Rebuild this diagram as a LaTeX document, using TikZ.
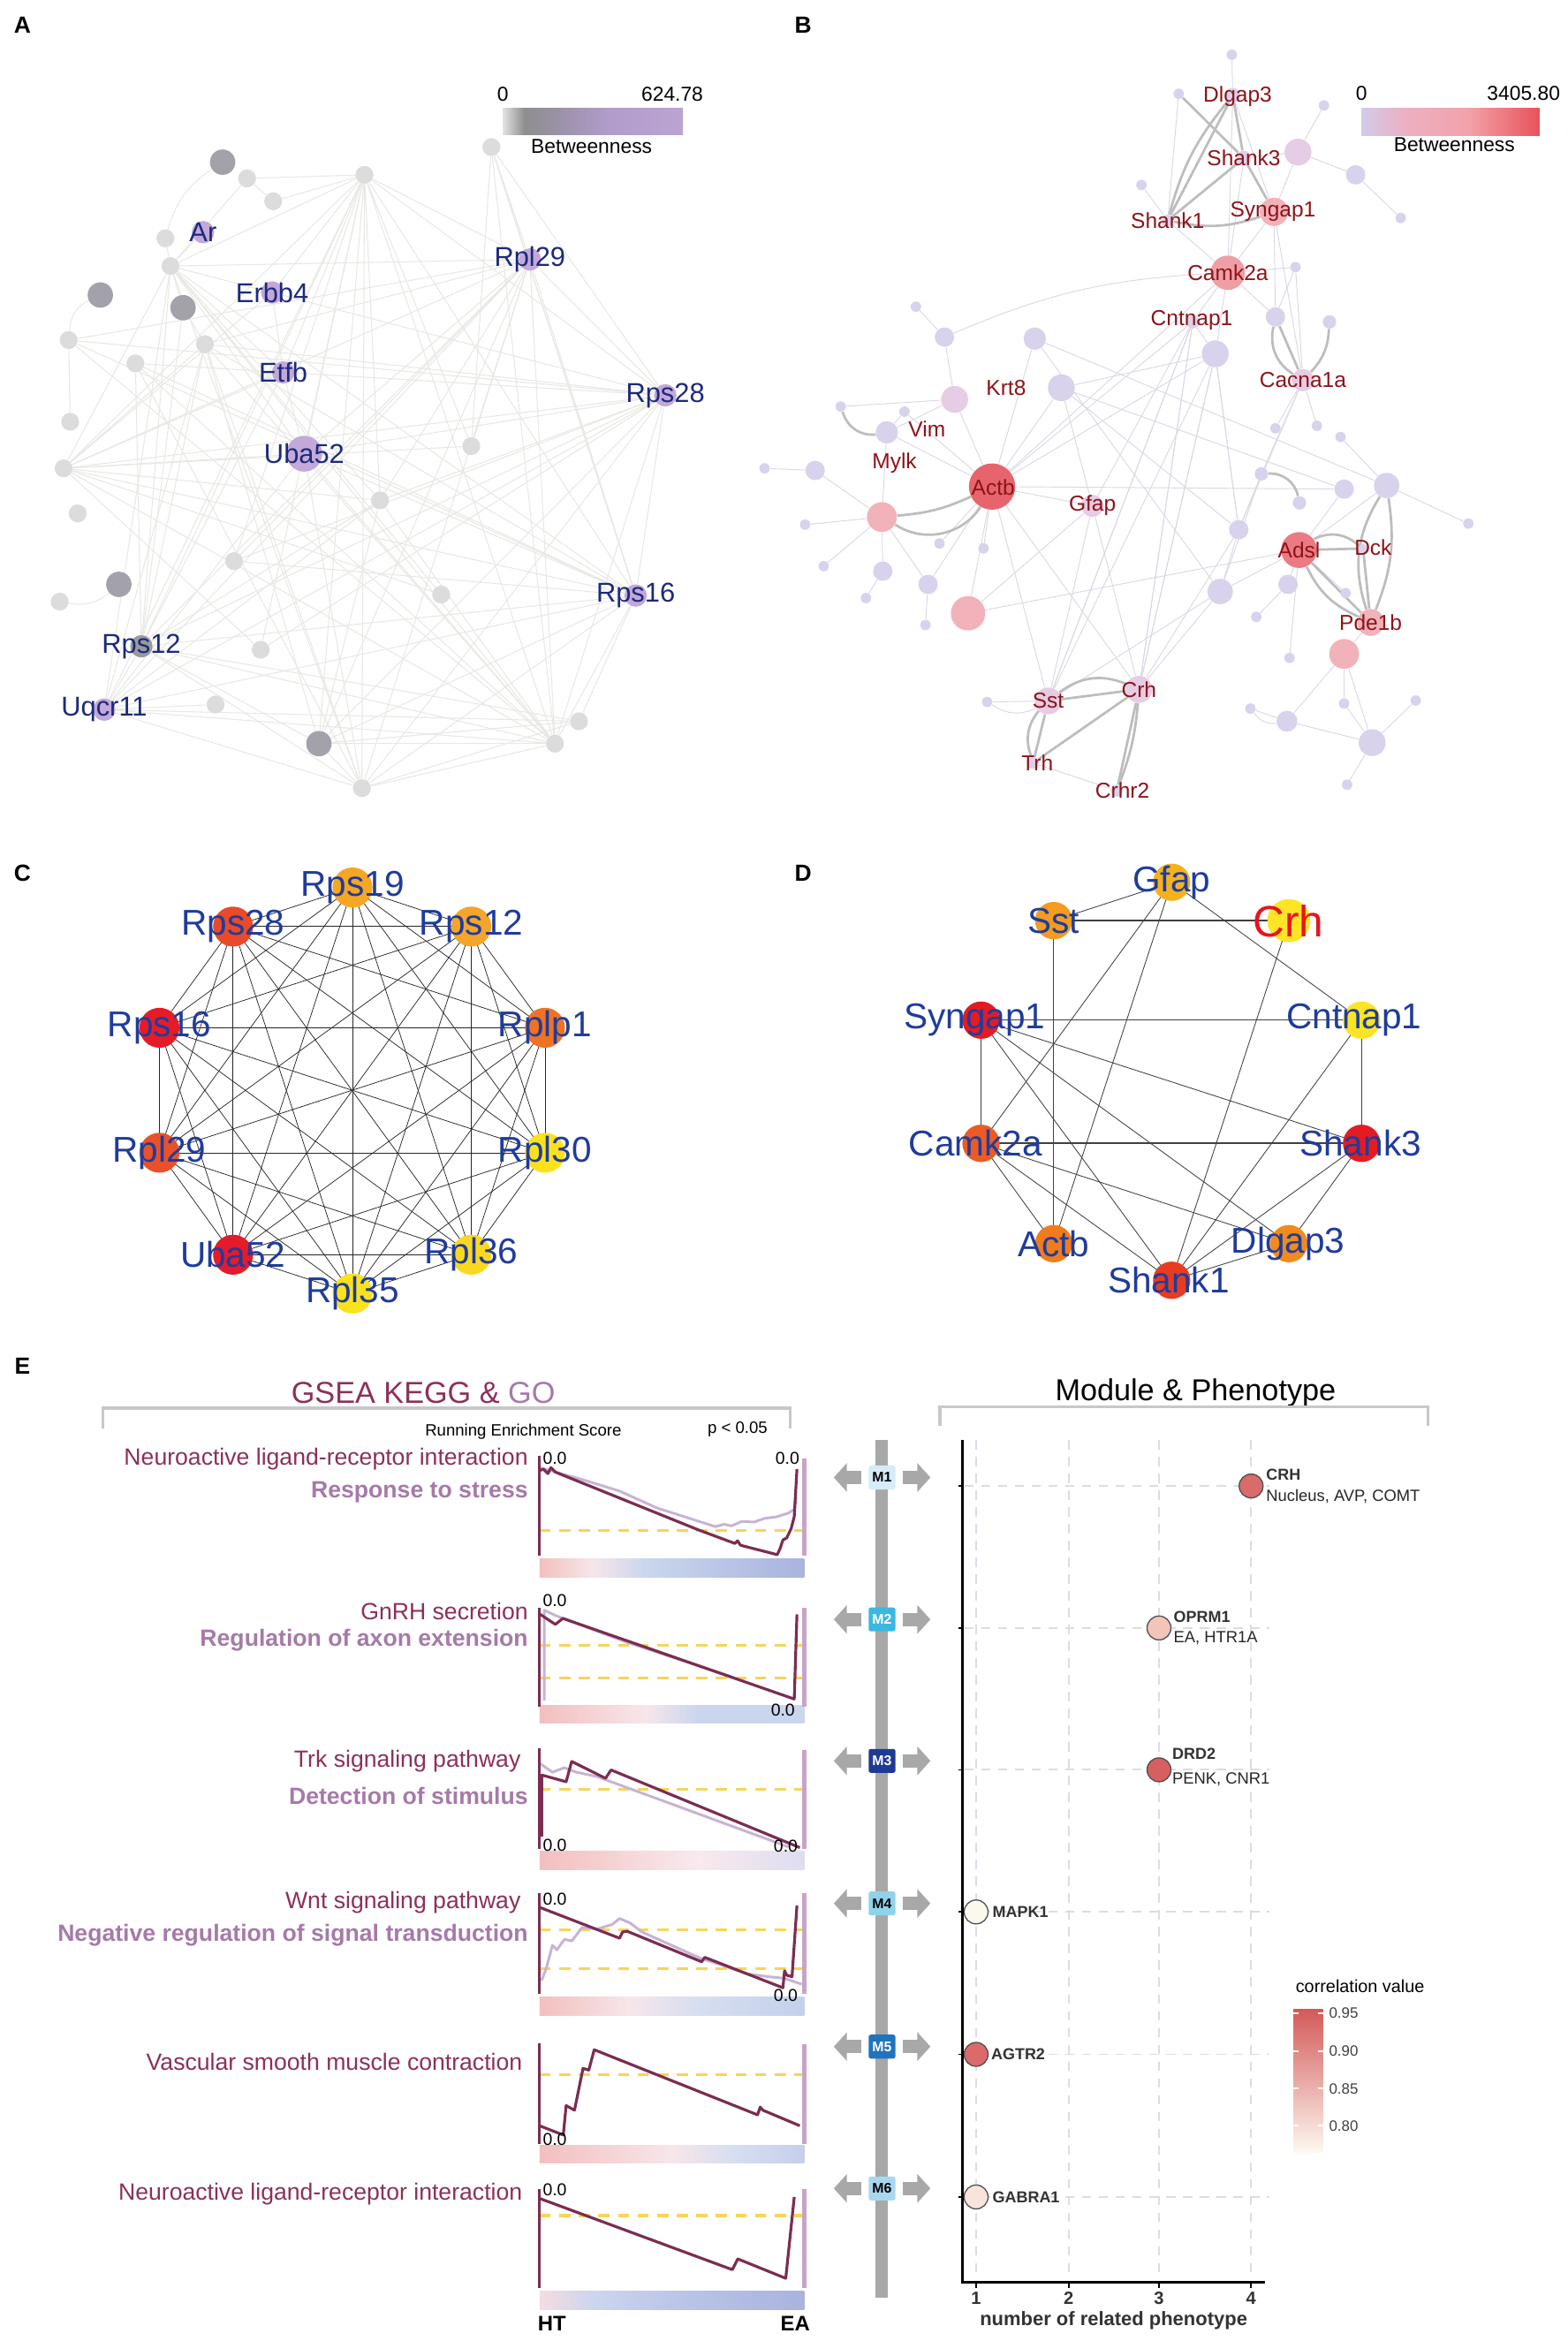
\documentclass[tikz,border=0pt]{standalone}
\usepackage{fontspec}
\setmainfont{Liberation Sans}
\usetikzlibrary{arrows.meta}
\pgfdeclarelayer{back}
\pgfdeclarelayer{bg}
\pgfsetlayers{back,bg,main}
\newcommand\fsz[1]{\fontsize{#1}{#1}\selectfont}
% colours
\definecolor{alight}{HTML}{DCDCDC}
\definecolor{adark}{HTML}{A3A2AA}
\definecolor{apurp}{HTML}{C2A9D9}
\definecolor{agray}{HTML}{9A9A9E}
\definecolor{aedgec}{HTML}{E8E8E4}
\definecolor{alab}{HTML}{1C2A7A}
\definecolor{blav}{HTML}{D9D2EC}
\definecolor{blavp}{HTML}{E6CCE4}
\definecolor{bpink}{HTML}{F2B2BA}
\definecolor{bred}{HTML}{E8646C}
\definecolor{bcam}{HTML}{F09EA6}
\definecolor{badsl}{HTML}{EC7A82}
\definecolor{bthinc}{HTML}{DCD8E4}
\definecolor{bthickc}{HTML}{BDBDBD}
\definecolor{blab}{HTML}{8C1419}
\definecolor{cdlab}{HTML}{1F3C9C}
\definecolor{kegg}{HTML}{8C305A}
\definecolor{gocol}{HTML}{A57AA8}
\definecolor{gdark}{HTML}{7B2D50}
\definecolor{glight}{HTML}{C7B3D3}
\definecolor{gright}{HTML}{C9A3C6}
\definecolor{gyel}{HTML}{F7D558}
\definecolor{brk}{HTML}{C8C8C8}
\definecolor{arrgray}{HTML}{A8A8A8}
\definecolor{gridc}{HTML}{DCDCE6}
\definecolor{mone}{HTML}{D6ECF8}
\definecolor{mtwo}{HTML}{3BB8E0}
\definecolor{mthree}{HTML}{1F3A93}
\definecolor{mfour}{HTML}{8FD3EA}
\definecolor{mfive}{HTML}{1F74C0}
\definecolor{msix}{HTML}{A8D8F0}
\definecolor{legtop}{HTML}{D45A5A}
\definecolor{legbot}{HTML}{FDF8F0}
\definecolor{crhred}{HTML}{E8141C}
% shading colours
\definecolor{sa1}{HTML}{E2E2E2}\definecolor{sa2}{HTML}{8E8E8E}\definecolor{sa3}{HTML}{9A92A6}\definecolor{sa4}{HTML}{B29CCC}\definecolor{sa5}{HTML}{BBA4D2}
\definecolor{sb1}{HTML}{D0CCEA}\definecolor{sb2}{HTML}{ECB0C4}\definecolor{sb3}{HTML}{F2A2AA}\definecolor{sb4}{HTML}{E8525A}
\definecolor{gpink}{HTML}{F3BFBE}\definecolor{gwhite}{HTML}{F7E6EA}\definecolor{glblue}{HTML}{CAD6EE}\definecolor{gblue}{HTML}{A9B3DD}
\definecolor{gw3}{HTML}{F8EAEE}\definecolor{gl3}{HTML}{DEDDF0}\definecolor{gm4}{HTML}{D6DEF0}\definecolor{gr4}{HTML}{C4D0EC}
\definecolor{g6a}{HTML}{F6DCE2}\definecolor{g6b}{HTML}{CCD6EE}\definecolor{g6c}{HTML}{BCC6E8}
\pgfdeclarehorizontalshading{shA}{100bp}{color(0bp)=(sa1); color(25bp)=(sa1); color(31bp)=(sa2); color(40bp)=(sa3); color(55bp)=(sa4); color(75bp)=(sa5); color(100bp)=(sa5)}
\pgfdeclarehorizontalshading{shB}{100bp}{color(0bp)=(sb1); color(25bp)=(sb1); color(37bp)=(sb2); color(55bp)=(sb3); color(75bp)=(sb4); color(100bp)=(sb4)}
\pgfdeclarehorizontalshading{gone}{100bp}{color(0bp)=(gpink); color(25bp)=(gpink); color(35bp)=(gwhite); color(45bp)=(glblue); color(75bp)=(gblue); color(100bp)=(gblue)}
\pgfdeclarehorizontalshading{gtwo}{100bp}{color(0bp)=(gpink); color(25bp)=(gpink); color(45bp)=(gwhite); color(55bp)=(glblue); color(75bp)=(glblue); color(100bp)=(glblue)}
\pgfdeclarehorizontalshading{gthree}{100bp}{color(0bp)=(gpink); color(25bp)=(gpink); color(55bp)=(gw3); color(75bp)=(gl3); color(100bp)=(gl3)}
\pgfdeclarehorizontalshading{gfour}{100bp}{color(0bp)=(gpink); color(25bp)=(gpink); color(42bp)=(gwhite); color(55bp)=(gm4); color(75bp)=(gr4); color(100bp)=(gr4)}
\pgfdeclarehorizontalshading{gfive}{100bp}{color(0bp)=(gpink); color(25bp)=(gpink); color(50bp)=(gwhite); color(62bp)=(gm4); color(75bp)=(gr4); color(100bp)=(gr4)}
\pgfdeclarehorizontalshading{gsix}{100bp}{color(0bp)=(g6a); color(25bp)=(g6a); color(35bp)=(g6b); color(50bp)=(g6c); color(75bp)=(gblue); color(100bp)=(gblue)}
\begin{document}
\begin{tikzpicture}[x=0.8pt,y=-0.8pt,
  nd/.style 2 args={circle,inner sep=0pt,minimum size=#1,fill=#2},
  aedge/.style={draw=aedgec,line width=0.5pt},
  bthin/.style={draw=bthinc,line width=0.45pt},
  bthick/.style={draw=bthickc,line width=1.3pt},
  cedge/.style={draw=black!85,line width=0.35pt},
  dedge/.style={draw=black!75,line width=0.4pt},
  atext/.style={text=alab,font=\fsz{14.6pt},inner sep=0pt},
  btext/.style={text=blab,font=\fsz{11.6pt},inner sep=0pt},
  cdtext/.style={text=cdlab,font=\fsz{19.2pt},inner sep=0pt},
  panel/.style={font=\fsz{12.5pt}\bfseries,inner sep=0pt},
  cbtext/.style={font=\fsz{10.8pt},inner sep=0pt},
  keggt/.style={text=kegg,font=\fsz{12.6pt},anchor=east,inner sep=0pt},
  got/.style={text=gocol,font=\fsz{12.6pt}\bfseries,anchor=east,inner sep=0pt},
  zlab/.style={font=\fsz{9.2pt},inner sep=0pt},
  gdk/.style={draw=gdark,line width=1.5pt,line join=round},
  glt/.style={draw=glight,line width=1.4pt,line join=round},
  gax/.style={draw=gdark,line width=1.6pt},
  gaxr/.style={draw=gright,line width=2pt},
  gdash/.style={draw=gyel,line width=1.6pt,dash pattern=on 6pt off 4.5pt},
  brack/.style={draw=brk,line width=1.6pt},
  mbox/.style={rounded corners=1.2pt,minimum width=14.4pt,minimum height=12.8pt,inner sep=0pt,font=\fsz{7.5pt}\bfseries},
  fatarrow/.style={draw=arrgray,line width=7pt,-{Triangle[length=7pt,width=15pt]},shorten <=3.5pt},
  ptc/.style={circle,draw=black!70,line width=0.6pt,minimum size=12.8pt,inner sep=0pt},
  gname/.style={font=\fsz{8.5pt}\bfseries,text=black!80,anchor=west,inner sep=0pt},
  gsub/.style={font=\fsz{8.7pt},text=black!85,anchor=west,inner sep=0pt},
  grid/.style={draw=gridc,line width=0.9pt,dash pattern=on 5pt off 4pt}
]
\useasboundingbox (0,0) rectangle (1050,1568);
\begin{pgfonlayer}{back}
\fill[white] (0,0) rectangle (1050,1568);
\end{pgfonlayer}

% ================= PANEL A =================
\node[panel] (pA) at (15,17) {A};
\shade[shading=shA] (336.8,72.3) rectangle (457.4,90);
\node[cbtext] (cbA0) at (336.8,63) {0};
\node[cbtext] (cbA1) at (450.3,63) {624.78};
\node[cbtext] (cbA2) at (396.2,97.8) {Betweenness};

\node[nd={13.6pt}{adark}] (a1) at (149.1,108.6) {};
\node[nd={9.6pt}{alight}] (a2) at (165.5,119.5) {};
\node[nd={9.6pt}{alight}] (a3) at (183,134.8) {};
\node[nd={9.6pt}{alight}] (a4) at (244.1,117.1) {};
\node[nd={9.6pt}{alight}] (a5) at (329.1,98.5) {};
\node[nd={12pt}{apurp}] (a6) at (136,155.5) {};
\node[nd={9.6pt}{alight}] (a7) at (110.8,159.6) {};
\node[nd={9.6pt}{alight}] (a8) at (114.2,178.2) {};
\node[nd={13.6pt}{adark}] (a9) at (67.2,197.6) {};
\node[nd={13.6pt}{adark}] (a10) at (122.6,206.1) {};
\node[nd={12pt}{apurp}] (a11) at (182.3,195.9) {};
\node[nd={12pt}{apurp}] (a12) at (354.9,173.8) {};
\node[nd={9.6pt}{alight}] (a13) at (46,227.8) {};
\node[nd={9.6pt}{alight}] (a14) at (137.3,230.5) {};
\node[nd={9.6pt}{alight}] (a15) at (90.7,243.4) {};
\node[nd={12pt}{apurp}] (a16) at (189.7,249.5) {};
\node[nd={12pt}{apurp}] (a17) at (445.6,264.8) {};
\node[nd={9.6pt}{alight}] (a18) at (47,282.5) {};
\node[nd={9.6pt}{alight}] (a19) at (315.7,298.8) {};
\node[nd={19.2pt}{apurp}] (a20) at (203.8,303.9) {};
\node[nd={9.6pt}{alight}] (a21) at (42.6,313.7) {};
\node[nd={9.6pt}{alight}] (a22) at (254.5,335.1) {};
\node[nd={9.6pt}{alight}] (a23) at (52,343.9) {};
\node[nd={9.6pt}{alight}] (a24) at (156.8,375.8) {};
\node[nd={9.6pt}{alight}] (a25) at (295.5,398.2) {};
\node[nd={12pt}{apurp}] (a26) at (425.8,398.9) {};
\node[nd={13.6pt}{adark}] (a27) at (79.6,391.4) {};
\node[nd={9.6pt}{alight}] (a28) at (40,403) {};
\node[nd={12pt}{agray}] (a29) at (94.7,432.9) {};
\node[nd={9.6pt}{alight}] (a30) at (174.6,435.2) {};
\node[nd={12pt}{apurp}] (a31) at (69.8,475.3) {};
\node[nd={9.6pt}{alight}] (a32) at (144.4,471.9) {};
\node[nd={13.6pt}{adark}] (a33) at (213.6,498.1) {};
\node[nd={9.6pt}{alight}] (a34) at (371.7,498.1) {};
\node[nd={9.6pt}{alight}] (a35) at (387.8,483.1) {};
\node[nd={9.6pt}{alight}] (a36) at (242.4,527.9) {};

\begin{pgfonlayer}{bg}
\foreach \u/\v in {a4/a2,a4/a3,a4/a8,a4/a11,a4/a16,a4/a20,a4/a22,a4/a24,a4/a26,a4/a29,a4/a30,a4/a33,a4/a34,a4/a36,a4/a12,a4/a17,a4/a21,a4/a19,a4/a31,
 a21/a8,a21/a12,a21/a17,a21/a26,a21/a22,a21/a34,a21/a19,a21/a11,a21/a16,a21/a20,a21/a25,a21/a30,a21/a14,
 a8/a12,a8/a17,a8/a20,a8/a26,a8/a29,a8/a31,a8/a16,a8/a22,a8/a34,a8/a10,a8/a7,a8/a2,a8/a36,a8/a25,
 a12/a17,a12/a26,a12/a29,a12/a31,a12/a14,a12/a24,a12/a33,a12/a34,a12/a13,a12/a22,a12/a19,a12/a36,a12/a20,a12/a5,
 a17/a26,a17/a29,a17/a31,a17/a14,a17/a24,a17/a33,a17/a34,a17/a36,a17/a13,a17/a15,a17/a22,a17/a5,a17/a20,a17/a30,
 a26/a29,a26/a31,a26/a14,a26/a15,a26/a13,a26/a33,a26/a36,a26/a34,a26/a35,a26/a24,a26/a20,a26/a5,
 a29/a14,a29/a36,a29/a34,a29/a31,a29/a33,a29/a22,a29/a16,a29/a15,a29/a35,
 a31/a36,a31/a34,a31/a14,a31/a22,a31/a20,a31/a32,a31/a35,
 a33/a34,a33/a36,a33/a35,a33/a14,a33/a22,
 a36/a34,a36/a14,a36/a15,a36/a20,a36/a35,
 a34/a14,a34/a15,a34/a13,a34/a22,a34/a20,a34/a5,
 a13/a18,a10/a14,a10/a29,a6/a8,a5/a19,a5/a26,a2/a3,a11/a16,a16/a20}
 \draw[aedge] (\u) -- (\v);
\draw[aedge] (a9) to[bend right=30] (a13);
\draw[aedge] (a27) to[bend left=25] (a28);
\draw[aedge] (a1) to[bend right=20] (a7);
\end{pgfonlayer}

\node[atext] (la6) at (a6) {Ar};
\node[atext] (la11) at (a11) {Erbb4};
\node[atext] (la12) at (a12) {Rpl29};
\node[atext] (la16) at (a16) {Etfb};
\node[atext] (la17) at (a17) {Rps28};
\node[atext] (la20) at (a20) {Uba52};
\node[atext] (la26) at (a26) {Rps16};
\node[atext] (la29) at (a29) {Rps12};
\node[atext] (la31) at (a31) {Uqcr11};

% ================= PANEL B =================
\node[panel] (pB) at (538,17) {B};
\shade[shading=shB] (912,72.3) rectangle (1031.2,91);
\node[cbtext] (cbB0) at (912,62.8) {0};
\node[cbtext] (cbB1) at (1020.5,62.8) {3405.80};
\node[cbtext] (cbB2) at (974.1,96.8) {Betweenness};

\node[nd={5.6pt}{blav}] (b1) at (825.1,36.7) {};
\node[nd={8pt}{blav}] (b2) at (825.7,63.8) {};
\node[nd={5.6pt}{blav}] (b3) at (789.5,62.8) {};
\node[nd={5.6pt}{blav}] (b4) at (886.8,70.6) {};
\node[nd={8pt}{blav}] (b5) at (833.1,105.9) {};
\node[nd={14.4pt}{blavp}] (b6) at (869.4,101.9) {};
\node[nd={10.4pt}{blav}] (b7) at (908,117.1) {};
\node[nd={5.6pt}{blav}] (b8) at (764.6,123.9) {};
\node[nd={5.6pt}{blav}] (b9) at (938.2,146) {};
\node[nd={6.4pt}{blav}] (b10) at (782.1,147.7) {};
\node[nd={15.2pt}{bpink}] (b11) at (853.3,141.9) {};
\node[nd={18.4pt}{bcam}] (b12) at (822.4,182.7) {};
\node[nd={5.6pt}{blav}] (b13) at (867.7,178.9) {};
\node[nd={7.2pt}{blav}] (b14) at (798.9,215.6) {};
\node[nd={10.4pt}{blav}] (b15) at (854.3,212.2) {};
\node[nd={7.2pt}{blav}] (b16) at (890.5,215.6) {};
\node[nd={5.6pt}{blav}] (b17) at (613.5,205.4) {};
\node[nd={10.4pt}{blav}] (b18) at (632.6,225.8) {};
\node[nd={12pt}{blav}] (b19) at (693.1,226.8) {};
\node[nd={14.4pt}{blav}] (b20) at (814,237) {};
\node[nd={12pt}{blavp}] (b21) at (872.7,254.6) {};
\node[nd={14.4pt}{blavp}] (b22) at (639.4,267.5) {};
\node[nd={14.4pt}{blav}] (b23) at (710.9,259.7) {};
\node[nd={5.6pt}{blav}] (b24) at (563.1,272.3) {};
\node[nd={5.6pt}{blav}] (b25) at (605.8,275.7) {};
\node[nd={12pt}{blav}] (b26) at (594,289.6) {};
\node[nd={5.6pt}{blav}] (b27) at (854.3,286.9) {};
\node[nd={5.6pt}{blav}] (b28) at (882.1,285.2) {};
\node[nd={5.6pt}{blav}] (b29) at (897.9,292.7) {};
\node[nd={10.4pt}{blav}] (b30) at (546,315.1) {};
\node[nd={24.8pt}{bred}] (b31) at (664.5,325.9) {};
\node[nd={7.2pt}{blav}] (b32) at (844.9,317.4) {};
\node[nd={10.4pt}{blav}] (b33) at (900.3,327.6) {};
\node[nd={13.6pt}{blav}] (b34) at (928.8,325.2) {};
\node[nd={5.6pt}{blav}] (b35) at (983.5,350.7) {};
\node[nd={7.2pt}{blav}] (b36) at (870.4,336.8) {};
\node[nd={16pt}{bpink}] (b37) at (590.7,346.3) {};
\node[nd={5.6pt}{blav}] (b38) at (539.3,351.4) {};
\node[nd={12pt}{blavp}] (b39) at (731.7,338.8) {};
\node[nd={10.4pt}{blav}] (b40) at (829.7,354.8) {};
\node[nd={19.2pt}{badsl}] (b41) at (870.1,368.4) {};
\node[nd={5pt}{blav}] (b42) at (913,367.4) {};
\node[nd={5.6pt}{blav}] (b43) at (629.3,364) {};
\node[nd={5.6pt}{blav}] (b44) at (658.8,367.3) {};
\node[nd={5.6pt}{blav}] (b45) at (551.7,379.2) {};
\node[nd={10.4pt}{blav}] (b46) at (591.3,382.6) {};
\node[nd={10.4pt}{blav}] (b47) at (621.6,391.4) {};
\node[nd={10.4pt}{blav}] (b48) at (862.7,391.4) {};
\node[nd={5.6pt}{blav}] (b49) at (901.3,397.2) {};
\node[nd={18.4pt}{bpink}] (b50) at (648.4,410.8) {};
\node[nd={13.6pt}{blav}] (b51) at (817.3,396.2) {};
\node[nd={5.6pt}{blav}] (b52) at (580,400.6) {};
\node[nd={5.6pt}{blav}] (b53) at (841.5,413.2) {};
\node[nd={14.4pt}{bpink}] (b54) at (918.1,416.9) {};
\node[nd={5.6pt}{blav}] (b55) at (619.9,418.6) {};
\node[nd={16pt}{bpink}] (b56) at (900.3,438) {};
\node[nd={5.6pt}{blav}] (b57) at (863.7,440.7) {};
\node[nd={14.4pt}{blavp}] (b58) at (702.1,469.5) {};
\node[nd={14.4pt}{blavp}] (b59) at (762.9,461.7) {};
\node[nd={5.6pt}{blav}] (b60) at (661.2,470.2) {};
\node[nd={6.4pt}{blav}] (b61) at (692,511) {};
\node[nd={6.4pt}{blav}] (b62) at (748,529.6) {};
\node[nd={5.6pt}{blav}] (b63) at (837.5,474.6) {};
\node[nd={11.2pt}{blav}] (b64) at (862,483.1) {};
\node[nd={14.4pt}{blav}] (b65) at (919.1,497.4) {};
\node[nd={5.6pt}{blav}] (b66) at (948.3,469.2) {};
\node[nd={5.6pt}{blav}] (b67) at (900.3,471.2) {};
\node[nd={5.6pt}{blav}] (b68) at (902.3,525.6) {};
\node[nd={5.6pt}{blav}] (b69) at (512.1,313.7) {};

\begin{pgfonlayer}{bg}
\foreach \u/\v in {b1/b2,b2/b12,b5/b12,b10/b12,b11/b12,b8/b10,b6/b11,b6/b7,b6/b4,b7/b9,b5/b6,b12/b20,b12/b15,b12/b13,b13/b15,b13/b21,b14/b20,b14/b12,b17/b18,b18/b22,b22/b31,b22/b26,b19/b31,b19/b51,b23/b31,b23/b20,b23/b39,b23/b40,b20/b31,b20/b40,b26/b31,b25/b31,b26/b37,b30/b37,b30/b69,b38/b37,b45/b37,b46/b37,b52/b46,b47/b31,b47/b55,b43/b31,b44/b31,b50/b31,b50/b41,b31/b39,b31/b58,b31/b59,b39/b58,b39/b59,b39/b14,b58/b60,b58/b14,b59/b14,b59/b51,b59/b20,b61/b62,b51/b40,b51/b32,b51/b41,b40/b20,b40/b21,b40/b32,b21/b27,b21/b28,b21/b32,b33/b41,b34/b41,b34/b35,b34/b29,b41/b48,b41/b49,b41/b57,b48/b53,b54/b56,b56/b67,b56/b64,b56/b65,b64/b63,b64/b65,b65/b66,b65/b68,b67/b65,b23/b33,b19/b34,b11/b21,b11/b15,b12/b31,b14/b31,b20/b58,b20/b59,b14/b58,b14/b59,b2/b11,b3/b10,b22/b24,b25/b26,b37/b47,b50/b39,b58/b51,b59/b40,b31/b33}
 \draw[bthin] (\u) -- (\v);
\draw[bthin] (b12) to[bend right=10] (b18);
\draw[bthin] (b60) to[bend right=30] (b58);
\draw[bthin] (b63) to[bend right=30] (b64);
\foreach \u/\v in {b2/b5,b2/b10,b5/b10,b3/b5,b5/b11,b15/b21,b41/b42,b41/b54,b42/b54,b58/b59,b58/b61,b59/b61,b59/b62}
 \draw[bthick] (\u) -- (\v);
\draw[bthick] (b2) to[bend right=12] (b10);
\draw[bthick] (b10) to[bend right=15] (b11);
\draw[bthick] (b31) to[bend left=10] (b37);
\draw[bthick] (b31) to[bend left=45] (b37);
\draw[bthick] (b24) to[bend right=40] (b26);
\draw[bthick] (b16) to[bend left=20] (b21);
\draw[bthick] (b15) to[bend right=35] (b21);
\draw[bthick] (b32) to[bend left=40] (b36);
\draw[bthick] (b41) to[bend left=35] (b42);
\draw[bthick] (b34) to[bend left=15] (b54);
\draw[bthick] (b34) to[bend right=25] (b54);
\draw[bthick] (b41) to[bend right=20] (b54);
\draw[bthick] (b58) to[bend right=30] (b61);
\draw[bthick] (b59) to[bend left=8] (b62);
\draw[bthick] (b58) to[bend left=30] (b59);
\end{pgfonlayer}

\node[btext] (lb2) at (829,64.5) {Dlgap3};
\node[btext] (lb5) at (833.1,105.9) {Shank3};
\node[btext] (lb10) at (782.1,147.7) {Shank1};
\node[btext] (lb11) at (852.6,141.9) {Syngap1};
\node[btext] (lb12) at (822.4,182.7) {Camk2a};
\node[btext] (lb14) at (798.2,214.6) {Cntnap1};
\node[btext] (lb21) at (872.7,254.6) {Cacna1a};
\node[btext] (lb22) at (673.9,259.7) {Krt8};
\node[btext] (lb26) at (620.9,287.6) {Vim};
\node[btext] (lb37) at (599.1,310) {Mylk};
\node[btext] (lb31) at (665.2,326.6) {Actb};
\node[btext] (lb39) at (731.7,338.8) {Gfap};
\node[btext] (lb41) at (870.1,368.4) {Adsl};
\node[btext] (lb42) at (919.7,366.7) {Dck};
\node[btext] (lb54) at (918.1,416.9) {Pde1b};
\node[btext] (lb58) at (702.1,469.5) {Sst};
\node[btext] (lb59) at (762.9,461.7) {Crh};
\node[btext] (lb61) at (694.8,511) {Trh};
\node[btext] (lb62) at (751.8,529.6) {Crhr2};

% ================= PANEL C =================
\node[panel] (pC) at (15,585) {C};
\definecolor{cA}{HTML}{F5A623}\definecolor{cB}{HTML}{E84A2A}\definecolor{cC}{HTML}{F5A52A}
\definecolor{cD}{HTML}{E51C28}\definecolor{cE}{HTML}{EE7323}\definecolor{cF}{HTML}{E9512A}
\definecolor{cG}{HTML}{FBE21E}\definecolor{cH}{HTML}{E31B2A}\definecolor{cI}{HTML}{FBD820}
\node[nd={21.4pt}{cA}] (c1) at (236.1,594.4) {};
\node[nd={21.4pt}{cB}] (c2) at (156.1,620.6) {};
\node[nd={21.4pt}{cC}] (c3) at (315.7,620.6) {};
\node[nd={21.4pt}{cD}] (c4) at (106.8,688.4) {};
\node[nd={21.4pt}{cE}] (c5) at (365,688.4) {};
\node[nd={21.4pt}{cF}] (c6) at (106.8,772.1) {};
\node[nd={21.4pt}{cG}] (c7) at (365,772.1) {};
\node[nd={21.4pt}{cH}] (c8) at (156.1,840.4) {};
\node[nd={21.4pt}{cI}] (c9) at (315.7,840.4) {};
\node[nd={21.4pt}{cG}] (c10) at (236.1,866.4) {};
\begin{pgfonlayer}{bg}
\foreach \i in {1,...,10}{\foreach \j in {1,...,10}{\ifnum\i<\j \draw[cedge] (c\i.center) -- (c\j.center);\fi}}
\end{pgfonlayer}
\node[cdtext] (lc1) at (c1) {Rps19};
\node[cdtext] (lc2) at (c2) {Rps28};
\node[cdtext] (lc3) at (c3) {Rps12};
\node[cdtext] (lc4) at (c4) {Rps16};
\node[cdtext] (lc5) at (c5) {Rplp1};
\node[cdtext] (lc6) at (c6) {Rpl29};
\node[cdtext] (lc7) at (c7) {Rpl30};
\node[cdtext] (lc8) at (c8) {Uba52};
\node[cdtext] (lc9) at (c9) {Rpl36};
\node[cdtext] (lc10) at (c10) {Rpl35};

% ================= PANEL D =================
\node[panel] (pD) at (538,585) {D};
\definecolor{dA}{HTML}{F5B21E}\definecolor{dB}{HTML}{F39C1F}\definecolor{dC}{HTML}{FDE425}
\definecolor{dD}{HTML}{E41B23}\definecolor{dE}{HTML}{EC5B24}\definecolor{dF}{HTML}{F07C1E}
\definecolor{dG}{HTML}{F28A1E}\definecolor{dH}{HTML}{E63C22}
\node[nd={20pt}{dA}] (d1) at (784.8,590.9) {};
\node[nd={20pt}{dB}] (d2) at (705.8,616.6) {};
\node[nd={23pt}{dC}] (d3) at (863.3,616.6) {};
\node[nd={20pt}{dD}] (d4) at (657.1,683.3) {};
\node[nd={20pt}{dC}] (d5) at (912,683.3) {};
\node[nd={20pt}{dE}] (d6) at (657.1,765.8) {};
\node[nd={20pt}{dD}] (d7) at (912,765.8) {};
\node[nd={20pt}{dF}] (d8) at (705.8,833) {};
\node[nd={20pt}{dG}] (d9) at (863.3,833) {};
\node[nd={20pt}{dH}] (d10) at (784.8,857.5) {};
\begin{pgfonlayer}{bg}
\foreach \u/\v in {d2/d1,d1/d5,d1/d6,d1/d8,d3/d10,d4/d5,d4/d6,d4/d7,d4/d9,d4/d10,d2/d8,d5/d7,d5/d10,d6/d8,d6/d10,d6/d9,d7/d10,d7/d9,d9/d10}
 \draw[dedge] (\u.center) -- (\v.center);
\draw[dedge,line width=0.8pt] (d2.center) -- (d3.center);
\draw[dedge,line width=0.8pt] (d6.center) -- (d7.center);
\end{pgfonlayer}
\node[cdtext] (ld1) at (d1) {Gfap};
\node[cdtext] (ld2) at (d2) {Sst};
\node[text=crhred,font=\fsz{23.5pt},inner sep=0pt] (ld3) at (863,617) {Crh};
\node[cdtext] (ld4) at (652.8,683.3) {Syngap1};
\node[cdtext] (ld5) at (907,683.3) {Cntnap1};
\node[cdtext] (ld6) at (653.5,765.8) {Camk2a};
\node[cdtext] (ld7) at (911.3,765.8) {Shank3};
\node[cdtext] (ld8) at (705.8,833) {Actb};
\node[cdtext] (ld9) at (862.7,833) {Dlgap3};
\node[cdtext] (ld10) at (782.7,857.5) {Shank1};

% ================= PANEL E =================
\node[panel] (pE) at (15,915) {E};
\node[font=\fsz{16.2pt},inner sep=0pt] (tG) at (283.5,933) {\color{kegg}GSEA KEGG \& \color{gocol}GO};
\draw[brack] (69,956.8) -- (69,943.2) -- (529.3,943.2) -- (529.3,956.8);
\node[font=\fsz{16.2pt},inner sep=0pt] (tM) at (800.8,933) {Module \& Phenotype};
\draw[brack] (629.5,955.2) -- (629.5,942.1) -- (956.4,942.1) -- (956.4,955.2);
\node[font=\fsz{8.8pt},inner sep=0pt] (tR) at (350.5,959) {Running Enrichment Score};
\node[font=\fsz{8.8pt},inner sep=0pt] (tP) at (494,957.5) {p < 0.05};

% --- plot 1
\shade[shading=gone] (361.4,1044) rectangle (538.7,1056.4);
\draw[gdash] (361.4,1025) -- (538.7,1025);
\draw[glt] (361.4,983) -- (372,986) -- (390,991) -- (415,998.7) -- (440,1010) -- (479.1,1022.5) -- (485,1021) -- (490,1022) -- (497,1019) -- (505,1019.5) -- (512,1017) -- (520,1016) -- (528.2,1013.4) -- (532,1011) -- (533,1004);
\draw[gdk] (361.4,985) -- (364,984) -- (367,987) -- (369,983) -- (372,986) -- (467.8,1024.7) -- (492.3,1033.8) -- (494,1032) -- (496,1035) -- (520.6,1041.3) -- (522.5,1037.2) -- (524.4,1031.5) -- (527,1030) -- (530,1023.6) -- (532,1015.7) -- (533.8,983.9);
\draw[gax] (361.4,974.9) -- (361.4,1042.2);
\draw[gaxr] (538.7,977) -- (538.7,1042);
\node[keggt] (k1) at (353.9,977.2) {Neuroactive ligand-receptor interaction};
\node[got] (o1) at (353.9,999.2) {Response to stress};
\node[zlab] (z1a) at (371.6,976.5) {0.0};
\node[zlab] (z1b) at (527.4,976.5) {0.0};

% --- plot 2
\shade[shading=gtwo] (361.4,1142.4) rectangle (538.7,1153.8);
\draw[gdash] (361.4,1102.1) -- (538.7,1102.1);
\draw[gdash] (361.4,1123.9) -- (538.7,1123.9);
\draw[glt] (364.6,1139) -- (364.6,1078.5) -- (372,1082) -- (420,1100) -- (490.5,1123.2);
\draw[gdk] (361.4,1081) -- (372,1088) -- (377,1084) -- (532,1138) -- (533.8,1081.3);
\draw[gax] (361.4,1076.8) -- (361.4,1143.1);
\draw[gaxr] (538.7,1077) -- (538.7,1143);
\node[keggt] (k2) at (353.9,1079.5) {GnRH secretion};
\node[got] (o2) at (353.9,1098.3) {Regulation of axon extension};
\node[zlab] (z2a) at (371.6,1072.3) {0.0};
\node[zlab] (z2b) at (524.4,1145.2) {0.0};

% --- plot 3
\shade[shading=gthree] (361.4,1239.8) rectangle (538.7,1252.2);
\draw[gdash] (361.4,1198.6) -- (538.7,1198.6);
\draw[glt] (361.4,1181) -- (370,1187) -- (378,1184) -- (386,1187) -- (400,1190) -- (528,1237);
\draw[gdk] (362.9,1230) -- (362.9,1188.9) -- (379.2,1193.4) -- (382.9,1179.8) -- (405.6,1191.1) -- (409.3,1185.5) -- (535.7,1237.5);
\draw[gax] (361.4,1170.7) -- (361.4,1238.6);
\draw[gaxr] (538.7,1172) -- (538.7,1238.6);
\node[keggt] (k3) at (349,1179.8) {Trk signaling pathway};
\node[got] (o3) at (353.9,1203.1) {Detection of stimulus};
\node[zlab] (z3a) at (371.6,1235.9) {0.0};
\node[zlab] (z3b) at (526.3,1236.4) {0.0};

% --- plot 4
\shade[shading=gfour] (361.4,1337.6) rectangle (538.7,1350.1);
\draw[gdash] (361.4,1292.4) -- (538.7,1292.4);
\draw[gdash] (361.4,1318.6) -- (538.7,1318.6);
\draw[glt] (361.4,1325.2) -- (363,1326) -- (366,1318) -- (370,1303) -- (373,1306) -- (378,1299) -- (383,1300) -- (390,1291) -- (400,1292) -- (410,1289) -- (415,1285) -- (422,1288) -- (430,1294) -- (450,1303) -- (470,1312) -- (480,1315) -- (500,1322) -- (515,1324) -- (525,1325) -- (537,1329);
\draw[gdk] (361.4,1277.5) -- (415,1298.2) -- (417,1294) -- (420,1293.5) -- (470,1314) -- (472,1311) -- (524.4,1331.4) -- (525.5,1320) -- (527,1323) -- (530.5,1324) -- (533.8,1276.4);
\draw[gax] (361.4,1268.1) -- (361.4,1335.6);
\draw[gaxr] (538.7,1268.1) -- (538.7,1335.6);
\node[keggt] (k4) at (349,1274.4) {Wnt signaling pathway};
\node[got] (o4) at (353.9,1296.1) {Negative regulation of signal transduction};
\node[zlab] (z4a) at (371.6,1272.3) {0.0};
\node[zlab] (z4b) at (526.3,1336.6) {0.0};

% --- plot 5
\shade[shading=gfive] (361.4,1437.2) rectangle (538.7,1448.6);
\draw[gdash] (361.4,1389.5) -- (538.7,1389.5);
\draw[gdk] (361.4,1423.8) -- (377.3,1430) -- (379.2,1410.3) -- (384.8,1413.4) -- (390.5,1385.4) -- (394.4,1386.5) -- (398,1372.9) -- (507.4,1416.5) -- (509.2,1411.3) -- (511,1413.4) -- (535.7,1423.8);
\draw[gax] (361.4,1368.4) -- (361.4,1436.2);
\draw[gaxr] (538.7,1369) -- (538.7,1436.2);
\node[keggt] (k5) at (350.1,1380.8) {Vascular smooth muscle contraction};
\node[zlab] (z5a) at (371.6,1432.7) {0.0};

% --- plot 6
\shade[shading=gsix] (361.4,1534.8) rectangle (538.7,1547.2);
\draw[gdash] (361.4,1483.9) -- (538.7,1483.9);
\draw[gdk] (361.4,1472.5) -- (490.5,1520.2) -- (494.2,1513) -- (526.3,1526) -- (532,1471.5);
\draw[gax] (361.4,1466.3) -- (361.4,1532.7);
\draw[gaxr] (538.7,1466.3) -- (538.7,1532.7);
\node[keggt] (k6) at (350.1,1469.4) {Neuroactive ligand-receptor interaction};
\node[zlab] (z6a) at (371.6,1466.9) {0.0};
\node[font=\fsz{11.3pt}\bfseries,inner sep=0pt] (tHT) at (369.7,1556.5) {HT};
\node[font=\fsz{11.3pt}\bfseries,inner sep=0pt] (tEA) at (532.7,1556.5) {EA};

% --- module column
\fill[arrgray] (586.6,964.3) rectangle (594.9,1538.7);
\foreach \k/\yy/\col/\tc in {1/989.6/mone/black,2/1084.7/mtwo/white,3/1179.4/mthree/white,4/1274.9/mfour/black,5/1370.8/mfive/white,6/1465.8/msix/black}{
  \node[mbox,fill=\col,text=\tc] (m\k) at (590.8,\yy) {M\k};
  \coordinate (mL\k) at (558.5,\yy);
  \coordinate (mR\k) at (623.2,\yy);
  \draw[fatarrow] (m\k) -- (mL\k);
  \draw[fatarrow] (m\k) -- (mR\k);
}

% --- right plot
\foreach \xx in {653.8,715.8,776.3,838} \draw[grid] (\xx,964.5) -- (\xx,1527);
\foreach \yy in {995.3,1090.4,1185.4,1280.6,1376,1471.5} {\draw[grid] (646,\yy) -- (850,\yy); \draw[line width=0.8pt] (641.7,\yy) -- (645,\yy);}
\draw[line width=1.6pt] (644.7,964.5) -- (644.7,1528.5) -- (847.3,1528.5);
\foreach \xx/\t in {653.8/1,715.8/2,776.3/3,838/4}{
  \draw[line width=0.8pt] (\xx,1528.5) -- (\xx,1532.5);
  \node[font=\fsz{9.5pt}\bfseries,text=black!80,inner sep=0pt] (tk\t) at (\xx,1539.5) {\t};
}
\node[font=\fsz{10.4pt}\bfseries,text=black!80,inner sep=0pt] (tX) at (745.9,1554.5) {number of related phenotype};
\definecolor{pA}{HTML}{D96B6B}\definecolor{pB}{HTML}{F3C4B8}\definecolor{pC}{HTML}{D66060}
\definecolor{pD}{HTML}{FBF8EE}\definecolor{pE}{HTML}{DC6A6A}\definecolor{pF}{HTML}{F8E4DC}
\node[ptc,fill=pA] (p1) at (838,995.3) {};
\node[ptc,fill=pB] (p2) at (776.3,1090.4) {};
\node[ptc,fill=pC] (p3) at (776.3,1185.4) {};
\node[ptc,fill=pD] (p4) at (653.8,1280.6) {};
\node[ptc,fill=pE] (p5) at (653.8,1376) {};
\node[ptc,fill=pF] (p6) at (653.8,1471.5) {};
\node[gname] (g1) at (847.9,987.8) {CRH};
\node[gsub] (g1b) at (847.9,1002.1) {Nucleus, AVP, COMT};
\node[gname] (g2) at (785.9,1082.9) {OPRM1};
\node[gsub] (g2b) at (785.9,1097.2) {EA, HTR1A};
\node[gname] (g3) at (785,1174.8) {DRD2};
\node[gsub] (g3b) at (785,1191.6) {PENK, CNR1};
\node[gname] (g4) at (664.6,1280.6) {MAPK1};
\node[gname] (g5) at (663.7,1376) {AGTR2};
\node[gname] (g6) at (664.6,1471.5) {GABRA1};

% legend
\node[font=\fsz{9.4pt},inner sep=0pt] (lgT) at (911,1330.4) {correlation value};
\shade[top color=legtop,bottom color=legbot] (866.3,1346) rectangle (886.2,1441.4);
\foreach \yy/\t in {1348.4/0.95,1374/0.90,1398.9/0.85,1423.8/0.80}{
  \draw[white,line width=0.8pt] (866.3,\yy) -- (869.5,\yy);
  \draw[white,line width=0.8pt] (883,\yy) -- (886.2,\yy);
  \node[font=\fsz{8pt},text=black!75,anchor=west,inner sep=0pt] at (890,\yy) {\t};
}
\end{tikzpicture}
\end{document}
